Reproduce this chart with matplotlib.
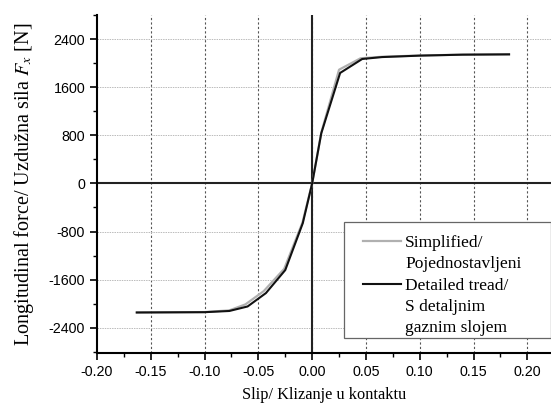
import numpy as np
import matplotlib
matplotlib.use("Agg")
import matplotlib.pyplot as plt
from matplotlib.lines import Line2D
from matplotlib.patches import Rectangle
from matplotlib.ticker import MultipleLocator

plt.rcParams['mathtext.fontset'] = 'stix'
plt.rcParams['axes.unicode_minus'] = False

# slip vs longitudinal force
slip_detailed = [-0.163, -0.10, -0.077, -0.060, -0.043, -0.025, -0.0087, 0.0,
                 0.0085, 0.026, 0.0465, 0.065, 0.10, 0.14, 0.183]
force_detailed = [-2145, -2140, -2120, -2045, -1823, -1440, -660, 0,
                  835, 1836, 2068, 2100, 2124, 2140, 2145]

slip_simple = [-0.163, -0.10, -0.077, -0.062, -0.045, -0.026, -0.009, 0.0,
               0.0085, 0.025, 0.045, 0.065, 0.10, 0.14, 0.183]
force_simple = [-2145, -2138, -2110, -2010, -1790, -1420, -650, 0,
                845, 1890, 2080, 2105, 2126, 2140, 2145]

xticks = [-0.20, -0.15, -0.10, -0.05, 0.00, 0.05, 0.10, 0.15, 0.20]
yticks = [-2400, -1600, -800, 0, 800, 1600, 2400]

serif = 'Liberation Serif'
sans = 'Liberation Sans'

fig = plt.figure(figsize=(5.51, 4.04), dpi=100)
ax = fig.add_axes([0.176, 0.126, 0.824, 0.837])

ax.set_xlim(-0.2, 0.222)
ax.set_ylim(-2820, 2800)

# grid
for x in xticks[1:]:
    ax.axvline(x, color='#555555', lw=0.8, ls=(0, (2, 2)), zorder=1)
for y in yticks:
    if y != 0:
        ax.axhline(y, color='#bbbbbb', lw=0.7, ls=(0, (1.5, 1)), zorder=1)

ax.axhline(0, color='#222222', lw=1.5, zorder=2)
ax.axvline(0, color='#222222', lw=1.5, zorder=2)

ax.plot(slip_simple, force_simple, color='#b0b0b0', lw=1.6, zorder=3)
ax.plot(slip_detailed, force_detailed, color='#111111', lw=1.5, zorder=4)

ax.set_xticks(xticks)
ax.set_xticklabels(['%.2f' % v for v in xticks])
ax.set_yticks(yticks)
ax.xaxis.set_minor_locator(MultipleLocator(0.025))
ax.yaxis.set_minor_locator(MultipleLocator(400))
ax.tick_params(which='major', direction='out', length=5, width=1.2, labelsize=10.3)
ax.tick_params(which='minor', direction='out', length=3, width=1.0)
for lab in ax.get_xticklabels() + ax.get_yticklabels():
    lab.set_fontfamily(sans)

for s in ['top', 'right']:
    ax.spines[s].set_visible(False)
for s in ['left', 'bottom']:
    ax.spines[s].set_linewidth(1.5)

ax.set_xlabel('Slip/ Klizanje u kontaktu', family=serif, fontsize=11.8, labelpad=6)
ax.set_ylabel('Longitudinal force/ Uzdužna sila $F_x$ [N]', family=serif, fontsize=14.5, labelpad=9)

# legend box
ax.add_patch(Rectangle((0.544, 0.044), 0.456, 0.344, transform=ax.transAxes,
                       facecolor='white', edgecolor='#666666', lw=0.9,
                       clip_on=False, zorder=5))
blank = Line2D([], [], color='none')
handles = [Line2D([], [], color='#b0b0b0', lw=1.6), blank,
           Line2D([], [], color='#111111', lw=1.5), blank, blank]
labels = ['Simplified/', 'Pojednostavljeni', 'Detailed tread/', 'S detaljnim', 'gaznim slojem']
leg = ax.legend(handles, labels, loc='upper left', bbox_to_anchor=(0.585, 0.35),
                prop={'family': serif, 'size': 12.5}, frameon=False,
                labelspacing=0.3, handlelength=2.2, handletextpad=0.25,
                borderpad=0, borderaxespad=0)
leg.set_zorder(6)

fig.savefig('out.png', dpi=100)
